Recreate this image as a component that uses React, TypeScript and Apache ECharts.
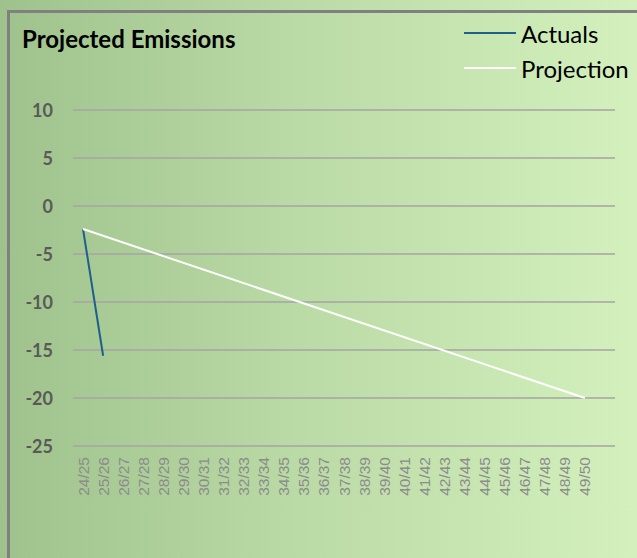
import React, { useEffect, useRef } from "react";
import * as echarts from "echarts";

const categories = [
  "24/25", "25/26", "26/27", "27/28", "28/29", "29/30", "30/31", "31/32", "32/33",
  "33/34", "34/35", "35/36", "36/37", "37/38", "38/39", "39/40", "40/41", "41/42",
  "42/43", "43/44", "44/45", "45/46", "46/47", "47/48", "48/49", "49/50", "",
];
const actuals: (number | null)[] = [-2.4, -15.6];
const projection: (number | null)[] = [
  -2.4, null, null, null, null, null, null, null, null, null, null, null, null,
  null, null, null, null, null, null, null, null, null, null, null, null, -20, null,
];
const yTicks = { min: -25, max: 10, interval: 5 };

export default function App() {
  const ref = useRef<HTMLDivElement>(null);
  useEffect(() => {
    if (!ref.current) return;
    const chart = echarts.init(ref.current, null, { renderer: "svg" });
    chart.setOption({
      animation: false,
      title: {
        text: "Projected Emissions",
        left: 22,
        top: 26,
        padding: 0,
        textStyle: { fontFamily: "Lato", fontWeight: "bold", fontSize: 24, color: "#000" },
      },
      legend: {
        orient: "vertical",
        left: 463,
        top: 21,
        padding: 0,
        itemWidth: 52,
        itemHeight: 14,
        itemGap: 11,
        itemStyle: { opacity: 0 },
        textStyle: { fontFamily: "Lato", fontSize: 24, color: "#000", lineHeight: 24 },
        data: ["Actuals", "Projection"],
      },
      graphic: [
        {
          type: "rect",
          shape: { x: 8.5, y: 11.5, width: 700, height: 700 },
          style: { fill: "none", stroke: "#808080", lineWidth: 3 },
          silent: true,
        },
      ],
      grid: { left: 73, right: 22, top: 110, bottom: 112 },
      xAxis: {
        type: "category",
        data: categories,
        boundaryGap: true,
        axisLine: { show: false },
        axisTick: { show: false },
        axisLabel: {
          rotate: 90,
          interval: 0,
          margin: 11,
          fontSize: 15.5,
          fontFamily: "Liberation Sans",
          color: "#8c8c8c",
        },
      },
      yAxis: {
        type: "value",
        min: yTicks.min,
        max: yTicks.max,
        interval: yTicks.interval,
        axisLine: { show: false },
        axisTick: { show: false },
        axisLabel: {
          margin: 20,
          fontSize: 18,
          fontWeight: "bold",
          fontFamily: "Lato",
          color: "#595959",
        },
        splitLine: { lineStyle: { color: "#a5a5a5", width: 1.5 } },
      },
      series: [
        {
          name: "Actuals",
          type: "line",
          data: actuals,
          symbol: "none",
          lineStyle: { color: "#1f5f8b", width: 2 },
          itemStyle: { color: "#1f5f8b" },
        },
        {
          name: "Projection",
          type: "line",
          data: projection,
          connectNulls: true,
          symbol: "none",
          lineStyle: { color: "#ffffff", width: 2 },
          itemStyle: { color: "#ffffff" },
        },
      ],
    });
    return () => chart.dispose();
  }, []);
  return (
    <div
      style={{
        position: "absolute",
        left: 0,
        top: 0,
        width: 637,
        height: 558,
        background: "linear-gradient(to right, #9fc28c 0%, #b9d9a5 45%, #d4f1bd 100%)",
      }}
    >
      <div ref={ref} style={{ width: 637, height: 558 }} />
    </div>
  );
}
